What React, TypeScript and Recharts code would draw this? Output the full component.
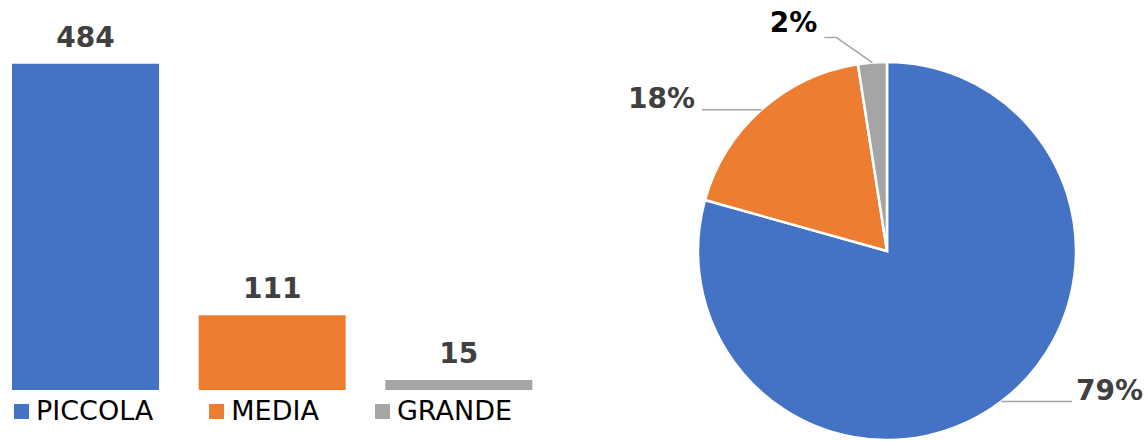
import { BarChart, Bar, XAxis, YAxis, Cell, LabelList, PieChart, Pie } from "recharts";

// ─── Data ─────────────────────────────────────────────────────────────────────

const categories = ["PICCOLA", "MEDIA", "GRANDE"];
const counts = [484, 111, 15];

const COLORS = ["#4472C4", "#ED7D31", "#A5A5A5"];
const PIE_LABEL_COLORS = ["#404040", "#404040", "#000000"];
const FONT = "'DejaVu Sans', Verdana, sans-serif";

const rows = categories.map((name, i) => ({ name, value: counts[i] }));

// ─── Pie label with leader line ───────────────────────────────────────────────

function renderPieLabel(props: any) {
  const { cx, cy, midAngle, outerRadius, percent, index } = props;
  const RAD = Math.PI / 180;
  const cos = Math.cos(-midAngle * RAD);
  const sin = Math.sin(-midAngle * RAD);
  const sx = cx + outerRadius * cos;
  const sy = cy + outerRadius * sin;
  const right = cos >= 0;
  const dir = right ? 1 : -1;
  const small = percent < 0.05;

  let points: [number, number][];
  if (small) {
    // small slice: short kink outward, then a stub
    const mx = sx + dir * 36;
    const my = sy + Math.sign(sin) * 25;
    points = [[sx, sy], [mx, my], [mx + dir * 12, my]];
  } else {
    points = [[sx, sy], [cx + dir * 185, sy]];
  }
  const [ex, ey] = points[points.length - 1];

  return (
    <g key={`lbl-${index}`}>
      <polyline
        points={points.map((p) => p.join(",")).join(" ")}
        fill="none"
        stroke="#A6A6A6"
        strokeWidth={1.5}
      />
      <text
        x={ex + (right ? 4 : -7)}
        y={ey - (small ? 15 : 11)}
        textAnchor={right ? "start" : "end"}
        dominantBaseline="central"
        fill={PIE_LABEL_COLORS[index]}
        fontFamily={FONT}
        fontWeight="bold"
        fontSize={28}
      >
        {`${Math.round(percent * 100)}%`}
      </text>
    </g>
  );
}

// ─── App ──────────────────────────────────────────────────────────────────────

export default function App() {
  return (
    <div style={{ position: "absolute", left: 0, top: 0, width: 1148, height: 441, background: "#fff", fontFamily: FONT }}>
      {/* Bar chart */}
      <div style={{ position: "absolute", left: -8, top: 0 }}>
        <BarChart width={560} height={441} data={rows} margin={{ top: 26, right: 0, bottom: 51, left: 0 }}>
          <XAxis dataKey="name" hide />
          <YAxis hide domain={[0, 540]} />
          <Bar dataKey="value" barSize={147} isAnimationActive={false}>
            {rows.map((_, i) => (
              <Cell key={i} fill={COLORS[i]} />
            ))}
            <LabelList
              dataKey="value"
              position="top"
              offset={17}
              fill="#404040"
              fontFamily={FONT}
              fontWeight="bold"
              fontSize={28}
            />
          </Bar>
        </BarChart>
      </div>

      {/* Legend */}
      <div
        style={{
          position: "absolute", left: 0, top: 398, width: 526, height: 26,
          display: "flex", justifyContent: "center", alignItems: "center", gap: 56,
        }}
      >
        {categories.map((c, i) => (
          <div key={c} style={{ display: "flex", alignItems: "center" }}>
            <span style={{ width: 15, height: 15, background: COLORS[i], marginRight: 7, display: "inline-block" }} />
            <span style={{ fontSize: 27, color: "#000", lineHeight: "26px" }}>{c}</span>
          </div>
        ))}
      </div>

      {/* Pie chart */}
      <div style={{ position: "absolute", left: 600, top: 0 }}>
        <PieChart width={548} height={441} margin={{ top: 0, right: 0, bottom: 0, left: 0 }}>
          <Pie
            data={rows}
            dataKey="value"
            cx={287}
            cy={251}
            outerRadius={189}
            startAngle={90}
            endAngle={-270}
            stroke="#fff"
            strokeWidth={2.5}
            label={renderPieLabel}
            labelLine={false}
            isAnimationActive={false}
          >
            {rows.map((_, i) => (
              <Cell key={i} fill={COLORS[i]} />
            ))}
          </Pie>
        </PieChart>
      </div>
    </div>
  );
}
